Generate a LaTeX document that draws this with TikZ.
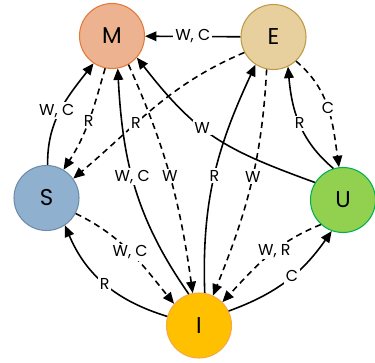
\documentclass[tikz,border=0pt]{standalone}
\usepackage{fontspec}
\setmainfont{Poppins}
\usetikzlibrary{arrows.meta}
\definecolor{mfill}{HTML}{EDB28F}
\definecolor{mline}{HTML}{E07B3A}
\definecolor{efill}{HTML}{E7D09E}
\definecolor{eline}{HTML}{BF9A45}
\definecolor{sfill}{HTML}{8FB0CF}
\definecolor{sline}{HTML}{6D8CAA}
\definecolor{ufill}{HTML}{92D050}
\definecolor{uline}{HTML}{00B050}
\definecolor{ifill}{HTML}{FFC000}
\definecolor{iline}{HTML}{F5A848}
\begin{document}
\begin{tikzpicture}[>={Triangle[length=6.5pt,width=5.5pt]}, line width=0.9pt,
    state/.style={circle, minimum size=1.3cm, inner sep=0pt, line width=0.6pt, font=\fontsize{13}{15}\selectfont},
    lbl/.style={fill=white, inner sep=1pt, font=\fontsize{9}{11}\selectfont},
    dsh/.style={dash pattern=on 3.5pt off 2.5pt}]
    \useasboundingbox (0,0) rectangle (7.5,7.24);
    \node[state, fill=mfill, draw=mline] (M) at (2.24,6.52) {M};
    \node[state, fill=efill, draw=eline] (E) at (5.47,6.50) {E};
    \node[state, fill=sfill, draw=sline] (S) at (0.93,3.28) {S};
    \node[state, fill=ufill, draw=uline] (U) at (6.86,3.24) {U};
    \node[state, fill=ifill, draw=iline] (I) at (3.98,0.73) {I};
    \draw[->](E)--node[lbl]{W, C}(M);
    \draw[->](S.88)to[out=91,in=232]node[lbl,xshift=-2pt]{W, C}(M.236);
    \draw[->,dsh](M.258)to[out=254,in=57]node[lbl]{R}(S.59);
    \draw[->,dsh](E.208)to[out=203,in=40]node[lbl,pos=0.62]{R}(S.36);
    \draw[->](I.108)to[out=125,in=273]node[lbl,pos=0.55]{W, C}(M.280);
    \draw[->,dsh](M.300)to[out=294,in=98]node[lbl]{W}(I.101);
    \draw[->](U.148)to[out=160,in=308,looseness=1.15]node[lbl,pos=0.58]{W}(M.319);
    \draw[->](U.107)to[out=140,in=275]node[lbl]{R}(E.296);
    \draw[->,dsh](E.313)to[out=320,in=98]node[lbl]{C}(U.97);
    \draw[->](I.80)to[out=92,in=245]node[lbl]{R}(E.237);
    \draw[->,dsh](E.258)to[out=267,in=68]node[lbl,pos=0.46]{W}(I.65);
    \draw[->,dsh](S.332)to[out=334,in=129]node[lbl]{W, C}(I.139);
    \draw[->](I.164)to[out=163,in=293]node[lbl]{R}(S.304);
    \draw[->,dsh](U.228)to[out=202,in=47]node[lbl,pos=0.42]{W, R}(I.45);
    \draw[->](I.26)to[out=20,in=235]node[lbl,pos=0.55]{C}(U.250);
\end{tikzpicture}
\end{document}
